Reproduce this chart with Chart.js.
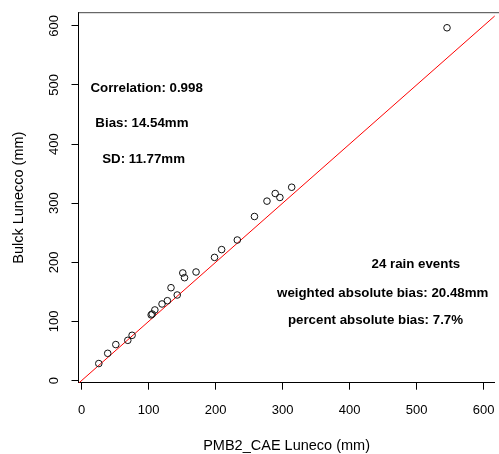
<!DOCTYPE html>
<html>
<head>
<meta charset="utf-8">
<script src="https://cdn.jsdelivr.net/npm/chart.js@4/dist/chart.umd.min.js"></script>
<style>
  html, body { margin: 0; padding: 0; background: #fff; overflow: hidden; }
</style>
</head>
<body>
<canvas id="chart" width="499" height="454"></canvas>
<script>
// rain totals per event (mm): PMB2_CAE gauge vs Bulck gauge
const pmb2Cae = [25.6, 38.9, 51, 68.9, 75.3, 103.8, 105.3, 109.3, 120, 128, 133.4, 142.7,
                 151, 153.6, 170.8, 198.4, 209, 232.4, 258, 276.7, 289, 296, 313.6, 545.5];
const bulck   = [28.7, 46, 60.8, 68, 76.5, 111, 112.5, 119.4, 129.5, 135, 157, 144.7,
                 182, 174, 183.6, 208.3, 221.5, 237.7, 277.5, 303.5, 316.4, 309.7, 327, 596.8];

const xTicks = [0, 100, 200, 300, 400, 500, 600];
const yTicks = [0, 100, 200, 300, 400, 500, 600];

const xRange = [-4.7, 616.7];
const yRange = [-3.7, 622.3];

// summary statistics written on the plot
const notes = [
  { text: 'Correlation: 0.998', x: 97, y: 494 },
  { text: 'Bias: 14.54mm', x: 90, y: 435 },
  { text: 'SD: 11.77mm', x: 92.5, y: 375 },
  { text: '24 rain events', x: 499, y: 196 },
  { text: 'weighted absolute bias: 20.48mm', x: 449.5, y: 148 },
  { text: 'percent absolute bias: 7.7%', x: 438.7, y: 102 }
];

const FONT = '"Liberation Sans", Arial, Helvetica, sans-serif';

const points = pmb2Cae.map((v, i) => ({ x: v, y: bulck[i] }));
// 1:1 line across the whole plotting range
const lo = Math.min(xRange[0], yRange[0]);
const hi = Math.max(xRange[1], yRange[1]);
const oneToOne = [{ x: lo, y: lo }, { x: hi, y: hi }];

// top frame line, rotated y labels (R style) and the text notes
const extras = {
  id: 'extras',
  afterDraw(chart) {
    const { ctx, chartArea: a, scales: { x, y } } = chart;
    ctx.save();
    ctx.strokeStyle = '#444';
    ctx.lineWidth = 1;
    ctx.beginPath();
    ctx.moveTo(a.left, a.top);
    ctx.lineTo(chart.width, a.top);
    ctx.stroke();

    ctx.fillStyle = '#000';
    ctx.textAlign = 'center';
    ctx.textBaseline = 'middle';
    ctx.font = '13px ' + FONT;
    yTicks.forEach(v => {
      ctx.save();
      ctx.translate(54, y.getPixelForValue(v));
      ctx.rotate(-Math.PI / 2);
      ctx.fillText(String(v), 0, 0);
      ctx.restore();
    });

    ctx.font = 'bold 13.3px ' + FONT;
    notes.forEach(n => {
      ctx.fillText(n.text, x.getPixelForValue(n.x), y.getPixelForValue(n.y));
    });
    ctx.restore();
  }
};

new Chart(document.getElementById('chart'), {
  type: 'scatter',
  data: {
    datasets: [
      {
        data: points,
        pointStyle: 'circle',
        pointRadius: 3.3,
        pointHoverRadius: 3.3,
        pointBorderWidth: 1,
        pointBorderColor: '#111',
        pointBackgroundColor: 'rgba(0,0,0,0)',
        showLine: false
      },
      {
        type: 'line',
        data: oneToOne,
        borderColor: '#ff0000',
        borderWidth: 1,
        pointRadius: 0,
        clip: 0
      }
    ]
  },
  options: {
    responsive: false,
    devicePixelRatio: 1,
    animation: false,
    layout: { padding: { top: 12.7, right: 0, left: 0, bottom: 0 } },
    plugins: {
      legend: { display: false },
      tooltip: { enabled: false }
    },
    scales: {
      x: {
        type: 'linear',
        min: xRange[0],
        max: xRange[1],
        afterBuildTicks: s => { s.ticks = xTicks.map(v => ({ value: v })); },
        afterFit: s => {
          s.height = 71.3;
          s.paddingLeft = 0;
          s.paddingRight = 0;
        },
        grid: { drawOnChartArea: false, tickLength: 7, color: '#000' },
        border: { color: '#000', width: 1 },
        ticks: { color: '#000', padding: 13, maxRotation: 0, font: { size: 13, family: FONT } },
        title: {
          display: true,
          text: 'PMB2_CAE Luneco (mm)',
          color: '#000',
          padding: 0,
          font: { size: 14.5, family: FONT, lineHeight: 1.1 }
        }
      },
      y: {
        type: 'linear',
        min: yRange[0],
        max: yRange[1],
        afterBuildTicks: s => { s.ticks = yTicks.map(v => ({ value: v })); },
        afterFit: s => {
          s.width = 78.5;
          s.paddingTop = 0;
          s.paddingBottom = 0;
        },
        grid: { drawOnChartArea: false, tickLength: 7, color: '#000' },
        border: { color: '#000', width: 1 },
        ticks: { display: false },
        title: {
          display: true,
          text: 'Bulck Lunecco (mm)',
          color: '#000',
          padding: { top: 11.5, bottom: 0 },
          font: { size: 14.5, family: FONT, lineHeight: 1.1 }
        }
      }
    }
  },
  plugins: [extras]
});
</script>
</body>
</html>
